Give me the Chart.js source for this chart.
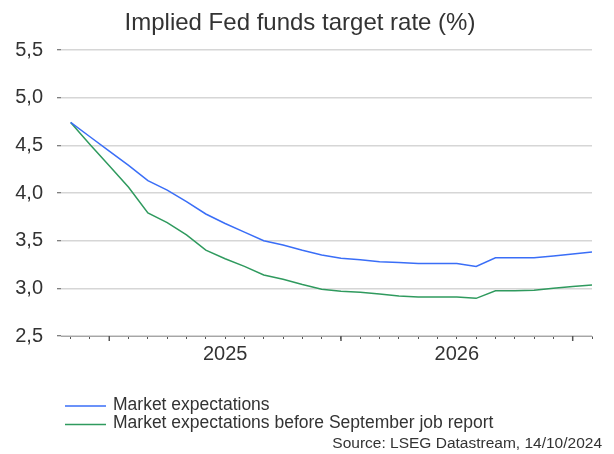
<!DOCTYPE html>
<html>
<head>
<meta charset="utf-8">
<script src="https://cdn.jsdelivr.net/npm/chart.js@4/dist/chart.umd.min.js"></script>
<style>
  html, body { margin: 0; padding: 0; background: #fff; }
  #wrap { width: 614px; height: 454px; position: relative; }
</style>
</head>
<body>
<div id="wrap"><canvas id="chart-fed"></canvas></div>
<script>
// monthly points, Nov 2024 .. Feb 2027
var months = ["Nov 2024", "Dec 2024",
    "Jan 2025", "Feb 2025", "Mar 2025", "Apr 2025", "May 2025", "Jun 2025",
    "Jul 2025", "Aug 2025", "Sep 2025", "Oct 2025", "Nov 2025", "Dec 2025",
    "Jan 2026", "Feb 2026", "Mar 2026", "Apr 2026", "May 2026", "Jun 2026",
    "Jul 2026", "Aug 2026", "Sep 2026", "Oct 2026", "Nov 2026", "Dec 2026",
    "Jan 2027", "Feb 2027"];

var marketExp = [4.74, 4.59, 4.44, 4.29, 4.13, 4.03, 3.91, 3.78, 3.68, 3.59,
    3.50, 3.455, 3.40, 3.35, 3.315, 3.30, 3.28, 3.27, 3.26, 3.26,
    3.26, 3.23, 3.32, 3.32, 3.32, 3.34, 3.36, 3.38];

var marketExpBefore = [4.74, 4.51, 4.285, 4.06, 3.79, 3.69, 3.56, 3.40, 3.31, 3.23,
    3.14, 3.095, 3.04, 2.99, 2.97, 2.96, 2.94, 2.92, 2.91, 2.91,
    2.91, 2.895, 2.975, 2.975, 2.98, 3.00, 3.02, 3.035];

var seriesNames = ["Market expectations", "Market expectations before September job report"];
var seriesColors = ["#3a6ef7", "#2f9a5e"];

// year label sits mid-year, long tick on January
var yearLabelMonth = "Jul";
var yTicks = [2.5, 3.0, 3.5, 4.0, 4.5, 5.0, 5.5];

var titleText = "Implied Fed funds target rate (%)";
var sourceText = "Source: LSEG Datastream, 14/10/2024";

var FONT = "'Liberation Sans', Arial, sans-serif";
var TEXT = "#333333";

function toPoints(values) {
    return values.map(function (v, i) { return { x: i, y: v }; });
}

function isJan(i) {
    return months[i] && months[i].indexOf("Jan") === 0;
}

Chart.defaults.font.family = FONT;
Chart.defaults.color = TEXT;

// title, legend and source text
var extras = {
    id: "extras",
    afterDraw: function (chart) {
        var ctx = chart.ctx;
        ctx.save();
        ctx.fillStyle = TEXT;
        ctx.textBaseline = "alphabetic";

        ctx.font = "24px " + FONT;
        ctx.textAlign = "center";
        ctx.fillText(titleText, 300, 30);

        // longer ticks at the year starts
        var xs = chart.scales.x;
        ctx.strokeStyle = "#555";
        ctx.lineWidth = 1.5;
        for (var i = 0; i < months.length; i++) {
            if (!isJan(i)) continue;
            var px = xs.getPixelForValue(i);
            ctx.beginPath();
            ctx.moveTo(px, xs.top);
            ctx.lineTo(px, xs.top + 5);
            ctx.stroke();
        }

        ctx.font = "17.5px " + FONT;
        ctx.textAlign = "left";
        var rows = [406, 424.5];
        for (var k = 0; k < seriesNames.length; k++) {
            ctx.strokeStyle = seriesColors[k];
            ctx.lineWidth = 1.5;
            ctx.beginPath();
            ctx.moveTo(65, rows[k]);
            ctx.lineTo(106, rows[k]);
            ctx.stroke();
            ctx.fillText(seriesNames[k], 113, rows[k] + 3.8);
        }

        ctx.font = "15.5px " + FONT;
        ctx.textAlign = "right";
        ctx.fillText(sourceText, 602, 448);
        ctx.restore();
    }
};

new Chart("chart-fed", {
    type: "line",
    data: {
        datasets: [{
            label: seriesNames[0],
            data: toPoints(marketExp),
            borderColor: seriesColors[0],
            borderWidth: 1.5,
            pointRadius: 0,
            tension: 0
        }, {
            label: seriesNames[1],
            data: toPoints(marketExpBefore),
            borderColor: seriesColors[1],
            borderWidth: 1.5,
            pointRadius: 0,
            tension: 0
        }]
    },
    options: {
        responsive: true,
        maintainAspectRatio: false,
        animation: false,
        layout: { padding: { top: 50, right: 22, left: 0, bottom: 0 } },
        plugins: {
            legend: { display: false },
            title: { display: false },
            tooltip: { enabled: false }
        },
        scales: {
            x: {
                type: "linear",
                min: -0.5,
                max: months.length - 1,
                afterBuildTicks: function (scale) {
                    scale.ticks = months.map(function (m, i) { return { value: i }; });
                },
                afterFit: function (scale) { scale.height = 118; },
                border: { display: true, color: "#a6a6a6", width: 1 },
                grid: {
                    drawOnChartArea: false,
                    drawTicks: true,
                    tickLength: 3,
                    tickColor: "#555",
                    tickWidth: 1
                },
                ticks: {
                    autoSkip: false,
                    maxRotation: 0,
                    padding: 3,
                    font: { size: 20 },
                    color: TEXT,
                    callback: function (value) {
                        var m = months[value];
                        if (m && m.indexOf(yearLabelMonth) === 0) return m.split(" ")[1];
                        return "";
                    }
                }
            },
            y: {
                min: yTicks[0],
                max: yTicks[yTicks.length - 1],
                afterBuildTicks: function (scale) {
                    scale.ticks = yTicks.map(function (v) { return { value: v }; });
                },
                afterFit: function (scale) { scale.width = 61; },
                border: { display: false },
                grid: {
                    color: "#d6d6d6",
                    lineWidth: 1.5,
                    drawTicks: true,
                    tickLength: 4,
                    tickColor: "#555",
                    tickWidth: 1
                },
                ticks: {
                    padding: 14,
                    font: { size: 20 },
                    color: TEXT,
                    callback: function (value) {
                        return value.toFixed(1).replace(".", ",");
                    }
                }
            }
        }
    },
    plugins: [extras]
});
</script>
</body>
</html>
